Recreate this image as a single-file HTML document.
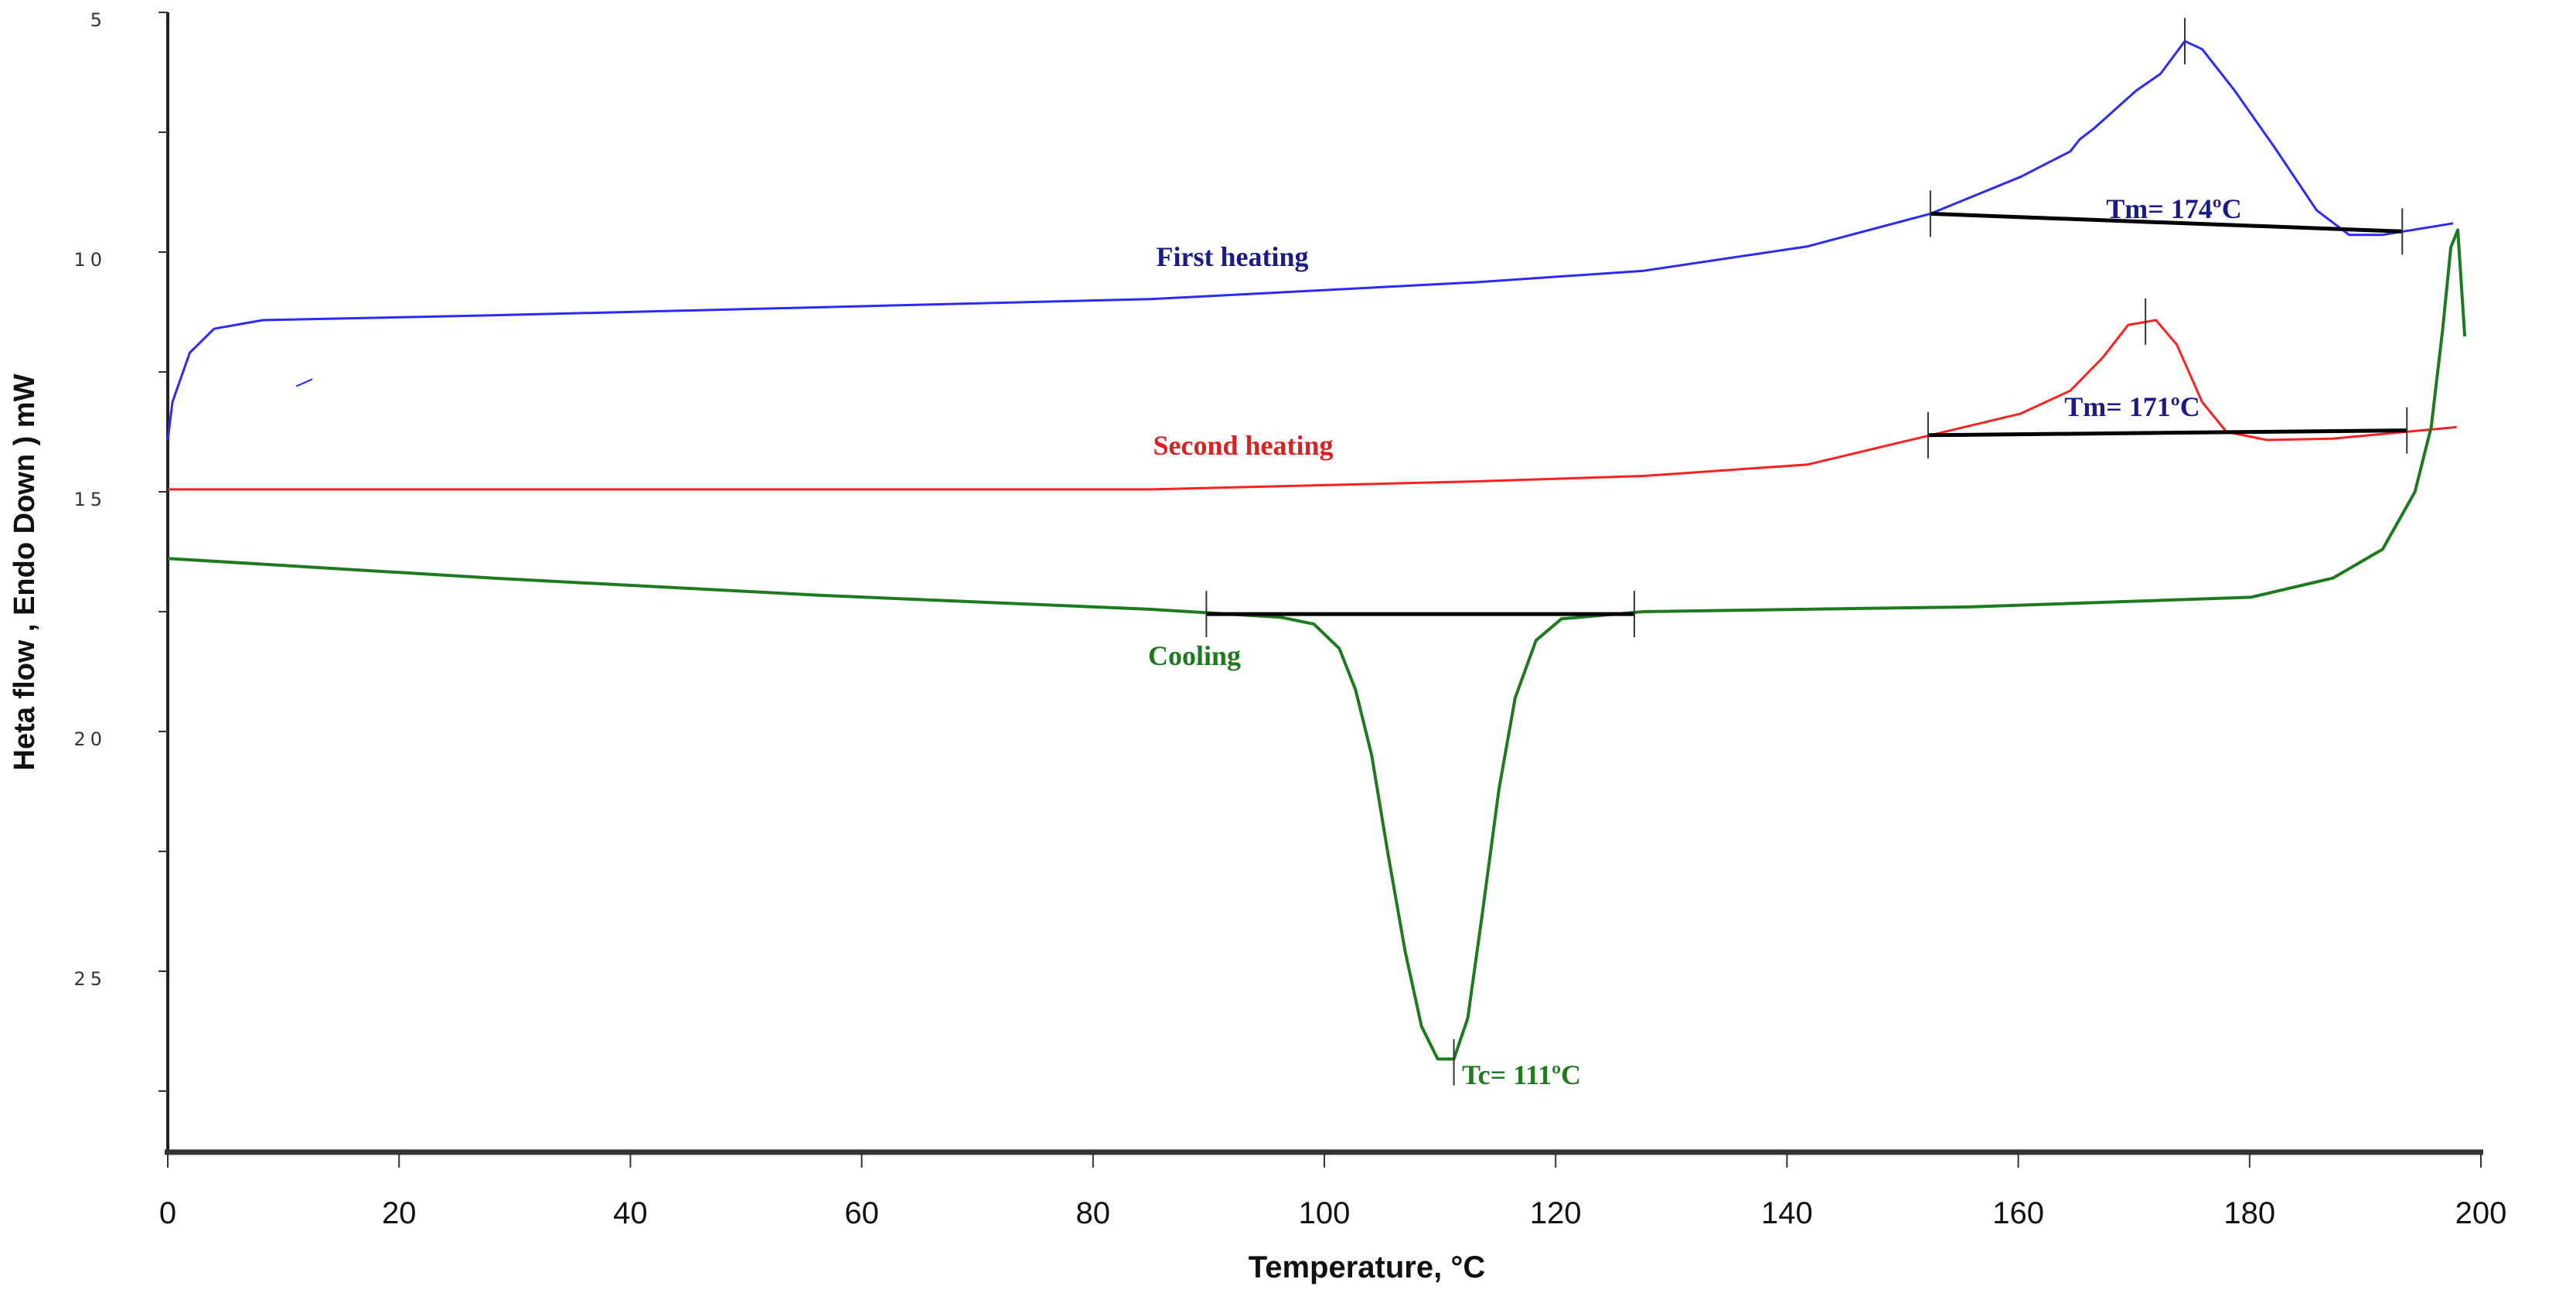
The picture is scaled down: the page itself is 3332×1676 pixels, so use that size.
<!DOCTYPE html>
<html><head><meta charset="utf-8"><style>
html,body{margin:0;padding:0;background:#fff}
svg{display:block}
</style></head><body>
<svg id="chart" width="3332" height="1676" viewBox="0 0 3332 1676" xmlns="http://www.w3.org/2000/svg">
<g id="axes"></g>
<g id="marks"></g>
</svg>
<script>
const xTicks=[0,20,40,60,80,100,120,140,160,180,200];
const yTicks=[5,10,15,20,25];
const heatT1=[0,0.4,1.9,4,8.2,28,85,113,127.6,141.8,152.4,160.2,164.5,165.3,166.6,170.2,172.3,174.4,175.9,178.7,182.2,185.8,188.6,191.5,197.6];
const heatV1=[13.92,13.13,12.1,11.6,11.42,11.32,10.98,10.63,10.39,9.88,9.2,8.43,7.9,7.65,7.41,6.63,6.28,5.6,5.77,6.63,7.83,9.13,9.64,9.64,9.4];
const fragT=[11.1,12.5];
const fragV=[12.8,12.65];
const heatT2=[0,85,113.4,127.6,141.8,152.4,160.2,164.5,167.3,169.5,171.9,173.7,175.9,178,181.5,187.2,197.9];
const heatV2=[14.95,14.95,14.78,14.67,14.43,13.82,13.37,12.89,12.2,11.52,11.42,11.93,13.13,13.75,13.92,13.89,13.65];
const coolT=[0,28.1,56.5,84.9,96.3,99.1,101.3,102.7,104.1,105.5,107,108.4,109.8,111.2,112.4,113.6,115.1,116.5,118.3,120.5,127.6,156,180.1,187.2,191.5,194.3,195.7,196.7,197.4,198,198.6];
const coolV=[16.39,16.8,17.16,17.45,17.62,17.76,18.27,19.13,20.5,22.55,24.6,26.15,26.83,26.83,25.98,23.9,21.2,19.3,18.1,17.65,17.5,17.4,17.2,16.8,16.2,15.0,13.65,11.6,9.9,9.54,11.76];
const baseT=[[152.4,193.2],[152.2,193.6],[89.8,126.8]];
const baseV=[[9.2,9.57],[13.82,13.72],[17.55,17.55]];
const vMarkT=[152.4,174.4,193.2,152.2,171,193.6,89.8,126.8,111.2];
const vMarkV=[9.2,5.6,9.57,13.82,11.45,13.72,17.55,17.55,26.9];

const X0=217,X1=3209,YT=16,PX=62;
const sx=t=>X0+(t-0)*(X1-X0)/200;
const sy=v=>YT+(v-5)*PX;
const NS='http://www.w3.org/2000/svg';
const axes=document.getElementById('axes'),marks=document.getElementById('marks');
function mk(tag,attrs,parent){const e=document.createElementNS(NS,tag);for(const k in attrs)e.setAttribute(k,attrs[k]);parent.appendChild(e);return e;}

let e;
e=mk('line',{x1:X0,y1:YT,x2:X0,y2:1490,stroke:'#222','stroke-width':4},axes);


e=mk('line',{x1:X0-4,y1:1490,x2:X1+3,y2:1490,stroke:'#333','stroke-width':7},axes);


xTicks.forEach(t=>{
  e=mk('line',{x1:sx(t),y1:1490,x2:sx(t),y2:1510,stroke:'#333','stroke-width':2},axes);
  
  
  e=mk('text',{x:sx(t),y:1582,'text-anchor':'middle','font-family':'Liberation Sans Narrow, Liberation Sans, sans-serif','font-size':40,fill:'#111'},axes);
  e.textContent=t;
  
  
});
for(let v=5;v<=27.5;v+=2.5){
  e=mk('line',{x1:X0-12,y1:sy(v),x2:X0,y2:sy(v),stroke:'#333','stroke-width':2},axes);
  
  
}
yTicks.forEach(v=>{
  e=mk('text',{x:138,y:sy(v)+18,'text-anchor':'end','font-family':'DejaVu Sans, sans-serif','font-size':24,fill:'#333','letter-spacing':6},axes);
  e.textContent=v;
  
  
});
e=mk('text',{x:1768,y:1652,'text-anchor':'middle','font-family':'Liberation Sans, sans-serif','font-weight':'bold','font-size':40,fill:'#111'},axes);
e.textContent='Temperature, °C';


e=mk('text',{x:0,y:0,transform:'translate(44,740) rotate(-90)','text-anchor':'middle','font-family':'Liberation Sans, sans-serif','font-weight':'bold','font-size':38,fill:'#111'},axes);
e.textContent='Heta flow , Endo Down ) mW';



function path(T,V,color,w,name){
  const d=T.map((t,i)=>(i?'L':'M')+sx(t).toFixed(1)+','+sy(V[i]).toFixed(1)).join('');
  const p=mk('path',{d:d,fill:'none',stroke:color,'stroke-width':w,'stroke-linejoin':'round'},marks);
  
  
}
path(heatT1,heatV1,'#2a2aff',3,'first-heating-line');
path(fragT,fragV,'#2a2aff',2,'first-heating-fragment');
path(heatT2,heatV2,'#ff2020',3,'second-heating-line');
path(coolT,coolV,'#1e7a1e',4,'cooling-line');
baseT.forEach((T,i)=>path(T,baseV[i],'#000',5,'baseline'));
vMarkT.forEach((t,i)=>{
  e=mk('line',{x1:sx(t),y1:sy(vMarkV[i])-30,x2:sx(t),y2:sy(vMarkV[i])+30,stroke:'#333','stroke-width':2},marks);
  
  
});
const labels=[['First heating',1594,344,'#1a1a8a'],['Tm= 174ºC',2812,282,'#1a1a8a'],['Second heating',1608,588,'#e02020'],['Tm= 171ºC',2758,538,'#1a1a8a'],['Cooling',1545,860,'#1e7a1e'],['Tc= 111ºC',1968,1402,'#1e7a1e']];
const lnames=['first-heating-label','tm-first-label','second-heating-label','tm-second-label','cooling-label','tc-label'];
labels.forEach((l,i)=>{
  e=mk('text',{x:l[1],y:l[2],'text-anchor':'middle','font-family':'Liberation Serif, serif','font-weight':'bold','font-size':36,fill:l[3]},marks);
  e.textContent=l[0];
  
  
});
</script>
</body></html>
